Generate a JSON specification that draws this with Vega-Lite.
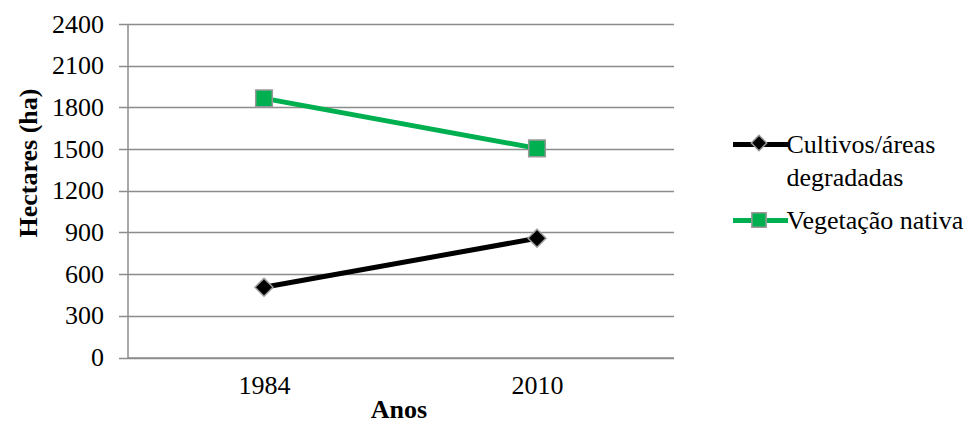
{
  "$schema": "https://vega.github.io/schema/vega-lite/v6.json",
  "width": 546,
  "height": 333.5,
  "autosize": {"type": "none"},
  "padding": {"left": 127.5, "top": 24, "right": 303.5, "bottom": 65.5},
  "background": "white",
  "config": {
    "font": "Liberation Serif",
    "view": {"stroke": null},
    "legend": {"labelFont": "Liberation Serif"},
    "style": {"guide-label": {"lineHeight": 33, "font": "Liberation Serif"}}
  },
  "data": {
    "values": [
      {"ano": "1984", "serie": "Cultivos/áreas degradadas", "ha": 505},
      {"ano": "2010", "serie": "Cultivos/áreas degradadas", "ha": 858},
      {"ano": "1984", "serie": "Vegetação nativa", "ha": 1865},
      {"ano": "2010", "serie": "Vegetação nativa", "ha": 1505}
    ]
  },
  "encoding": {
    "x": {
      "field": "ano",
      "type": "ordinal",
      "scale": {"type": "point", "padding": 0.5},
      "axis": {
        "title": "Anos",
        "titleFontSize": 26,
        "titleFontWeight": "bold",
        "titleColor": "black",
        "titleX": 271,
        "titleY": 60,
        "titleBaseline": "alphabetic",
        "titleAlign": "center",
        "labelAngle": 0,
        "labelFontSize": 26,
        "labelColor": "black",
        "labelPadding": 15,
        "ticks": false,
        "grid": false,
        "domainColor": "#8c8c8c",
        "domainWidth": 1.5
      }
    },
    "y": {
      "field": "ha",
      "type": "quantitative",
      "scale": {"domain": [0, 2400], "nice": false},
      "axis": {
        "title": "Hectares (ha)",
        "titleFontSize": 26,
        "titleFontWeight": "bold",
        "titleColor": "black",
        "titleAngle": -90,
        "titleX": -99.5,
        "titleY": 138.5,
        "titleBaseline": "middle",
        "titleAlign": "center",
        "values": [0, 300, 600, 900, 1200, 1500, 1800, 2100, 2400],
        "format": "d",
        "labelFontSize": 26,
        "labelColor": "black",
        "labelPadding": 15,
        "tickSize": 9,
        "tickColor": "#8c8c8c",
        "tickWidth": 1.5,
        "domainColor": "#8c8c8c",
        "domainWidth": 1.5,
        "gridColor": "#8c8c8c",
        "gridWidth": 1.5
      }
    }
  },
  "layer": [
    {
      "mark": {"type": "line", "strokeWidth": 5},
      "encoding": {
        "color": {
          "field": "serie",
          "type": "nominal",
          "scale": {"domain": ["Cultivos/áreas degradadas", "Vegetação nativa"], "range": ["#000000", "#00B050"]},
          "legend": {
            "orient": "none",
            "legendX": 603,
            "legendY": 90.5,
            "title": null,
            "padding": 0,
            "symbolType": "stroke",
            "symbolSize": 3025,
            "symbolStrokeWidth": 5,
            "labelFontSize": 26,
            "labelFont": "Liberation Serif",
            "labelColor": "black",
            "labelLimit": 0,
            "labelOffset": -4,
            "rowPadding": -2,
            "labelExpr": "datum.label == 'Cultivos/áreas degradadas' ? ['Cultivos/áreas', 'degradadas'] : datum.label"
          }
        }
      }
    },
    {
      "mark": {"type": "point", "filled": true, "size": 4096, "opacity": 1, "stroke": "#999999", "strokeWidth": 1.5},
      "encoding": {
        "fill": {
          "field": "serie",
          "type": "nominal",
          "scale": {"range": ["#000000", "#00B050"]},
          "legend": {
            "orient": "none",
            "legendX": 603,
            "legendY": 90.5,
            "title": null,
            "padding": 0,
            "symbolSize": 3025,
            "labelFontSize": 26,
            "labelLimit": 0,
            "labelOffset": -4,
            "rowPadding": 35,
            "labelExpr": "''"
          }
        },
        "shape": {
          "field": "serie",
          "type": "nominal",
          "scale": {"range": ["M0,-0.28L0.28,0L0,0.28L-0.28,0Z", "M-0.26,-0.26H0.26V0.26H-0.26Z"]},
          "legend": {
            "orient": "none",
            "legendX": 603,
            "legendY": 90.5,
            "title": null,
            "padding": 0,
            "symbolSize": 3025,
            "labelFontSize": 26,
            "labelLimit": 0,
            "labelOffset": -4,
            "rowPadding": 35,
            "labelExpr": "''"
          }
        }
      }
    }
  ]
}
